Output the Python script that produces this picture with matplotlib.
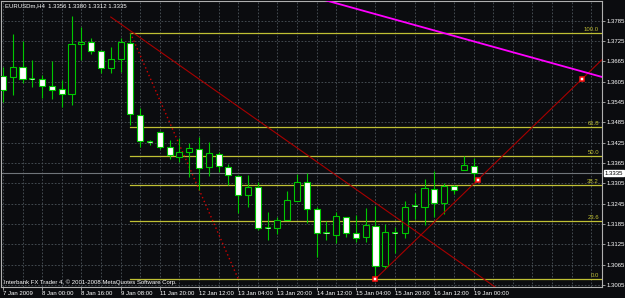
import matplotlib
matplotlib.use("Agg")
import matplotlib.pyplot as plt
from matplotlib.patches import Rectangle
from matplotlib.transforms import blended_transform_factory

# EURUSDm H4 candles, 7 Jan 08:00 .. 19 Jan 00:00 (2009)
opens = [1.3622, 1.3619, 1.3648, 1.3613, 1.3613, 1.3592, 1.3584, 1.3569, 1.3716, 1.3722,
         1.3696, 1.3646, 1.3672, 1.3719, 1.3507, 1.3427, 1.3457, 1.3412, 1.3383, 1.3398,
         1.3406, 1.3353, 1.3392, 1.3353, 1.3327, 1.3271, 1.3294, 1.3173, 1.3173, 1.3197,
         1.3253, 1.3309, 1.3229, 1.3159, 1.3153, 1.3206, 1.3159, 1.3147, 1.3179, 1.3061,
         1.3159, 1.3159, 1.3238, 1.3235, 1.3288, 1.3247, 1.3297, 1.3344, 1.3356]
highs = [1.3648, 1.3746, 1.3725, 1.3669, 1.3625, 1.3666, 1.3610, 1.3799, 1.3767, 1.3734,
         1.3699, 1.3708, 1.3734, 1.3749, 1.3527, 1.3433, 1.3460, 1.3433, 1.3439, 1.3424,
         1.3442, 1.3427, 1.3398, 1.3362, 1.3330, 1.3330, 1.3309, 1.3221, 1.3206, 1.3282,
         1.3333, 1.3336, 1.3235, 1.3194, 1.3221, 1.3206, 1.3212, 1.3232, 1.3238, 1.3185,
         1.3176, 1.3253, 1.3277, 1.3318, 1.3341, 1.3306, 1.3300, 1.3386, 1.3380]
lows = [1.3545, 1.3566, 1.3601, 1.3589, 1.3557, 1.3554, 1.3530, 1.3536, 1.3669, 1.3687,
        1.3631, 1.3631, 1.3634, 1.3477, 1.3412, 1.3418, 1.3406, 1.3377, 1.3368, 1.3324,
        1.3285, 1.3327, 1.3339, 1.3300, 1.3218, 1.3235, 1.3167, 1.3138, 1.3156, 1.3197,
        1.3253, 1.3188, 1.3088, 1.3138, 1.3129, 1.3147, 1.3132, 1.3132, 1.3023, 1.3055,
        1.3100, 1.3144, 1.3200, 1.3182, 1.3206, 1.3215, 1.3274, 1.3344, 1.3312]
closes = [1.3581, 1.3648, 1.3613, 1.3613, 1.3592, 1.3581, 1.3569, 1.3716, 1.3722, 1.3696,
          1.3646, 1.3672, 1.3722, 1.3510, 1.3430, 1.3427, 1.3412, 1.3389, 1.3398, 1.3409,
          1.3350, 1.3395, 1.3356, 1.3330, 1.3271, 1.3294, 1.3173, 1.3173, 1.3197, 1.3256,
          1.3309, 1.3229, 1.3159, 1.3159, 1.3209, 1.3159, 1.3144, 1.3182, 1.3061, 1.3161,
          1.3159, 1.3235, 1.3238, 1.3291, 1.3247, 1.3297, 1.3285, 1.3359, 1.3335]

time_ticks = [0, 4, 8, 12, 16, 20, 24, 28, 32, 36, 40, 44, 48]
time_labels = ['7 Jan 2009', '8 Jan 00:00', '8 Jan 16:00', '9 Jan 08:00', '11 Jan 20:00',
               '12 Jan 12:00', '13 Jan 04:00', '13 Jan 20:00', '14 Jan 12:00',
               '15 Jan 04:00', '15 Jan 20:00', '16 Jan 12:00', '19 Jan 00:00']
price_ticks = [1.3785, 1.3725, 1.3665, 1.3605, 1.3545, 1.3485, 1.3425, 1.3365,
               1.3305, 1.3245, 1.3185, 1.3125, 1.3065, 1.3005]

# fibonacci retracement: bar of the high, price 100 / price 0, end of its diagonal
fib_bar, fib_high, fib_low, fib_end_bar = 13, 1.3749, 1.3023, 24
fib_levels = [0.0, 23.6, 38.2, 50.0, 61.8, 100.0]

# trend lines (bar index, price)
down_line = [(11, 1.3796), (50.2, 1.2999)]
up_line = [(38, 1.3023), (59.06, 1.3613)]
up_points = [38, 48.47, 59.06]
magenta_line = [(33.2, 1.3843), (61.1, 1.3619)]

bg = '#0b0c0f'
green = '#00c800'
fib_col = '#c0c034'
red = '#a80000'
font = 'Liberation Sans'
fs = 4.3

fig = plt.figure(figsize=(6.25, 2.98), dpi=100, facecolor=bg)
ax = fig.add_axes([0.0015, 0.037, 0.9617, 0.958], facecolor=bg)
ax.set_xlim(-0.2, 61.1)
ax.set_ylim(1.29991, 1.38418)

# grid
for k in range(0, 62, 2):
    ax.axvline(k, color='#4c545b', lw=0.6, ls=(0, (2, 2)), zorder=0)
for p in price_ticks:
    ax.axhline(p, color='#4c545b', lw=0.6, ls=(0, (2, 2)), zorder=0)

# current price line
ax.axhline(closes[-1], color='#70757a', lw=0.8, zorder=1)

# fibonacci
for lv in fib_levels:
    p = fib_low + (fib_high - fib_low) * lv / 100
    ax.plot([fib_bar, 61.1], [p, p], color=fib_col, lw=0.9, zorder=1)
    ax.text(0.995, p + 0.0002, '%.1f' % lv, transform=blended_transform_factory(ax.transAxes, ax.transData),
            ha='right', va='bottom', color=fib_col, fontsize=fs, family=font)
ax.plot([fib_bar, fib_end_bar], [fib_high, fib_low], color='#d00000', lw=1.0,
        ls=(0, (1, 2)), zorder=1)

# candles
w = 0.62
for i in range(len(opens)):
    o, h, l, c = opens[i], highs[i], lows[i], closes[i]
    ax.vlines(i, l, h, color=green, lw=0.8, zorder=2)
    if abs(c - o) < 0.0002:
        ax.hlines(o, i - w / 2, i + w / 2, color=green, lw=1.3, zorder=3)
        ax.hlines(o, i - w / 2 + 0.1, i + w / 2 - 0.1, color='white', lw=0.5, zorder=4)
        continue
    face = bg if c > o else 'white'
    ax.add_patch(Rectangle((i - w / 2, min(o, c)), w, abs(c - o), facecolor=face,
                           edgecolor=green, lw=0.8, zorder=3))

# trend lines
def extend(pts, x0, x1):
    (a, pa), (b, pb) = pts
    s = (pb - pa) / (b - a)
    return [x0, x1], [pa + s * (x0 - a), pa + s * (x1 - a)]

xs, ys = extend(down_line, down_line[0][0], 62)
ax.plot(xs, ys, color=red, lw=0.8, zorder=5)
xs, ys = extend(up_line, up_line[0][0], 62)
ax.plot(xs, ys, color=red, lw=0.8, zorder=5)
(a, pa), (b, pb) = up_line
ax.plot(up_points, [pa + (pb - pa) / (b - a) * (x - a) for x in up_points], 's',
        ms=3.0, mfc='white', mec='#ff1010', mew=1.1, zorder=6)
xs, ys = extend(magenta_line, 30, 62)
ax.plot(xs, ys, color='#ff00ff', lw=1.3, zorder=5)

# axes
for s in ax.spines.values():
    s.set_color('#b0b0b0')
    s.set_linewidth(0.8)
ax.yaxis.tick_right()
ax.set_yticks(price_ticks)
ax.set_yticklabels(['%.4f' % p for p in price_ticks])
ax.set_xticks(time_ticks)
ax.set_xticklabels(time_labels)
ax.tick_params(axis='y', colors='#b0b0b0', labelcolor='white', length=2, pad=1.2,
               labelsize=fs, width=0.6)
ax.tick_params(axis='x', colors='#b0b0b0', labelcolor='white', length=2, pad=1,
               labelsize=fs, width=0.6)
for lab in ax.get_xticklabels() + ax.get_yticklabels():
    lab.set_family(font)
for lab in ax.get_xticklabels():
    lab.set_ha('left')

ax.text(1.0045, closes[-1], '%.4f' % closes[-1], transform=blended_transform_factory(ax.transAxes, ax.transData),
        ha='left', va='center', color='black', fontsize=fs, family=font,
        bbox=dict(boxstyle='square,pad=0.1', facecolor='white', edgecolor='white'), clip_on=False)

ax.text(0.007, 0.992, 'EURUSDm,H4  1.3356 1.3380 1.3312 1.3335', transform=ax.transAxes,
        ha='left', va='top', color='white', fontsize=fs, family=font)
ax.text(0.005, 0.006, 'Interbank FX Trader 4, \u00a9 2001-2008 MetaQuotes Software Corp.',
        transform=ax.transAxes, ha='left', va='bottom', color='white', fontsize=fs, family=font)

fig.savefig('out.png', dpi=100, facecolor=bg)
